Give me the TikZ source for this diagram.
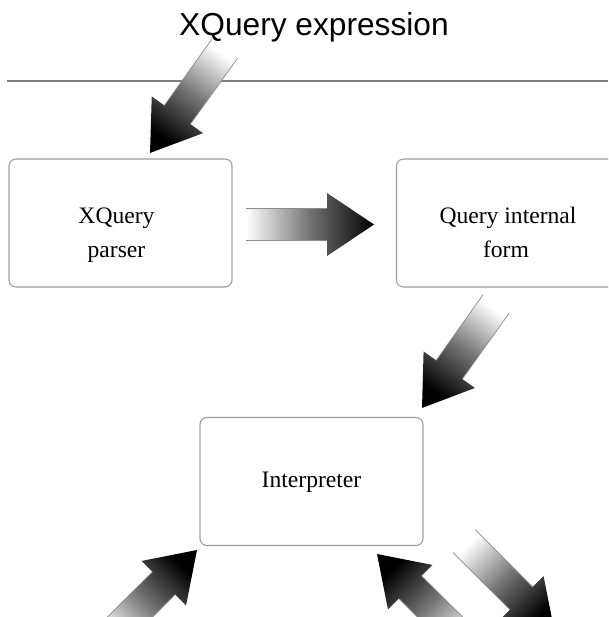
\documentclass[tikz,border=0pt]{standalone}
\usepackage{fontspec}
\setmainfont{Liberation Serif}
\newfontfamily\titlefont{Liberation Sans}
\usetikzlibrary{calc}
\tikzset{
  procbox/.style={draw=black!38, line width=1.1pt, rounded corners=7pt,
    minimum width=223pt, minimum height=128pt, inner sep=0pt},
  boxtext/.style={font=\fontsize{23.6}{33}\selectfont, inner sep=0pt, anchor=base},
  titletext/.style={font=\titlefont\fontsize{31.7}{38}\selectfont, inner sep=0pt, anchor=base},
  arrowfill/.style={bottom color=white, top color=black, middle color=black!55},
  arrowedge/.style={draw=black!45, line width=0.7pt},
  rule/.style={draw=black!50, line width=1.2pt}
}
\newcommand{\fatarrow}[3]{%
  \coordinate (#1-b) at ($(#2)!47pt!(#1)$);
  \coordinate (#1-tl) at ($(#1)!16pt!90:(#2)$);
  \coordinate (#1-tr) at ($(#1)!16pt!-90:(#2)$);
  \coordinate (#1-sl) at ($(#1-b)!16pt!90:(#2)$);
  \coordinate (#1-sr) at ($(#1-b)!16pt!-90:(#2)$);
  \coordinate (#1-hl) at ($(#1-b)!31.5pt!90:(#2)$);
  \coordinate (#1-hr) at ($(#1-b)!31.5pt!-90:(#2)$);
  \path[arrowfill, shading angle=#3] (#1-tl) -- (#1-sl) -- (#1-hl) -- (#2) -- (#1-hr) -- (#1-sr) -- (#1-tr) -- cycle;
  \draw[arrowedge] (#1-tl) -- (#1-sl);
  \draw[arrowedge] (#1-tr) -- (#1-sr);
}
\begin{document}
\begin{tikzpicture}[x=1pt, y=-1pt]
  \useasboundingbox (0,0) rectangle (608,617);
  \clip (0,0) rectangle (608,617);
  \fill[white] (0,0) rectangle (608,617);

  % title and rule
  \node[titletext] (title) at (314,36) {XQuery expression};
  \coordinate (ruleL) at (7,81);
  \coordinate (ruleR) at (608,81);
  \draw[rule] (ruleL) -- (ruleR);

  % boxes
  \node[procbox] (parser) at (120.5,223) {};
  \node[procbox] (internal) at (508,223) {};
  \node[procbox] (interp) at (311.5,481.5) {};

  \node[boxtext] (parserA) at ($(parser.center)+(-4,0.5)$) {XQuery};
  \node[boxtext] (parserB) at ($(parser.center)+(-4,34)$) {parser};
  \node[boxtext] (internalA) at ($(internal.center)+(0,0.5)$) {Query internal};
  \node[boxtext] (internalB) at ($(internal.center)+(-2,34)$) {form};
  \node[boxtext] (interpA) at ($(interp.center)+(0,5.5)$) {Interpreter};

  % arrow end points
  \coordinate (a1) at (224.5,49);   \coordinate (a1tip) at (150,153);
  \coordinate (a2) at (246,224.5);  \coordinate (a2tip) at (374,224.5);
  \coordinate (a3) at (496,304);    \coordinate (a3tip) at (422,408);
  \coordinate (a4) at (106.5,640.5);\coordinate (a4tip) at (197,550);
  \coordinate (a5) at (467.5,644.5);\coordinate (a5tip) at (377,554);
  \coordinate (a6) at (464,541);    \coordinate (a6tip) at (554.5,631.5);

  \fatarrow{a1}{a1tip}{144.6}
  \fatarrow{a2}{a2tip}{-90}
  \fatarrow{a3}{a3tip}{144.6}
  \fatarrow{a4}{a4tip}{-45}
  \fatarrow{a5}{a5tip}{45}
  \fatarrow{a6}{a6tip}{-135}
\end{tikzpicture}
\end{document}
